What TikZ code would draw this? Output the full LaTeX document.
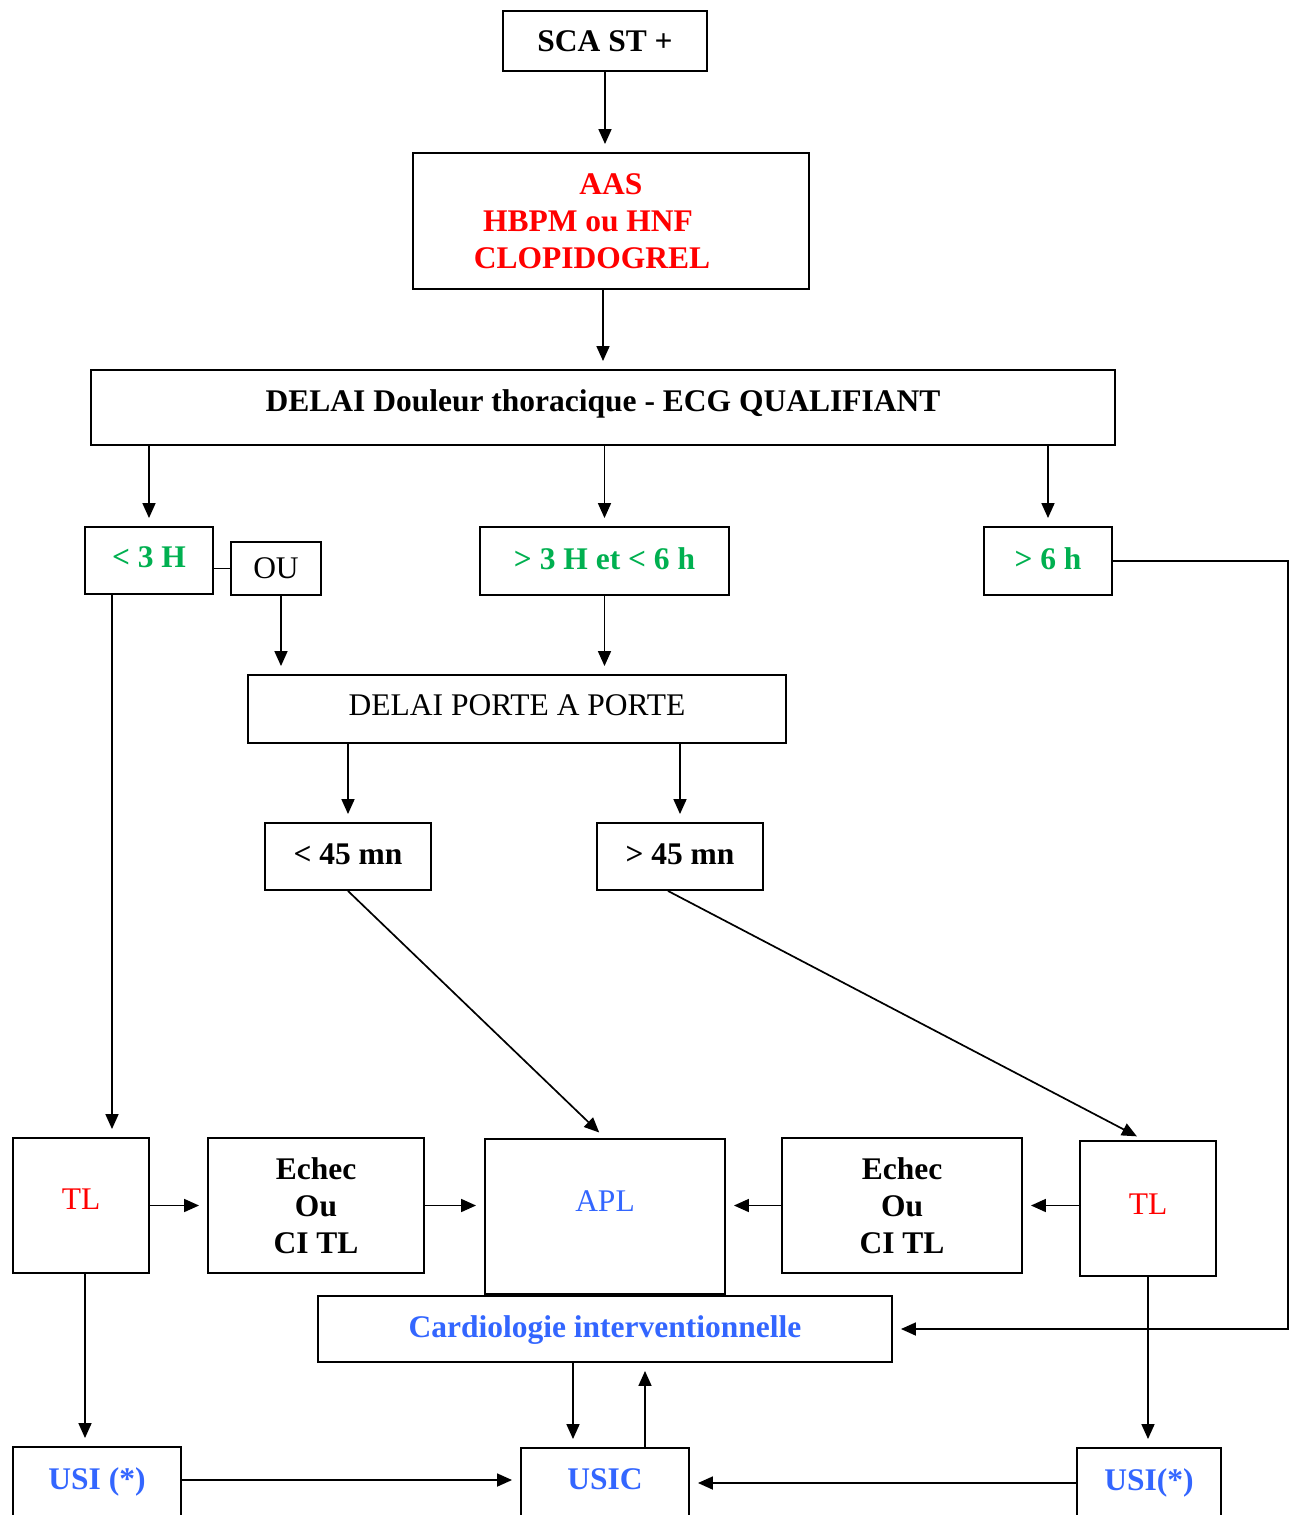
\documentclass[tikz,border=0pt]{standalone}
\usepackage{fontspec}
\setmainfont{Liberation Serif}
\usetikzlibrary{arrows.meta}
\definecolor{cred}{RGB}{255,0,0}
\definecolor{cgreen}{RGB}{0,176,80}
\definecolor{cblue}{RGB}{51,102,255}
\tikzset{
  box/.style={draw, line width=1.9pt, inner sep=0pt, align=center,
    font=\fontsize{31.5}{37}\selectfont},
  bbox/.style={box, font=\fontsize{31.5}{37}\selectfont\bfseries},
  conn/.style={line width=1.7pt, -{Triangle[length=15pt,width=13pt]}, shorten >=8pt},
  plain/.style={line width=1.7pt},
}
\begin{document}
\begin{tikzpicture}[x=1pt,y=-1pt]
\useasboundingbox (0,0) rectangle (1298,1515);
\clip (0,0) rectangle (1298,1515);
\fill[white] (0,0) rectangle (1298,1515);

\node[bbox, minimum width=204, minimum height=60] (sca) at (605,41) {SCA ST +};
\node[bbox, text=cred, minimum width=396, minimum height=136] (aas) at (611,221)
  {AAS\\HBPM ou HNF\hspace*{46pt}\null\\CLOPIDOGREL\hspace*{38pt}\null};
\node[bbox, minimum width=1024, minimum height=75, text depth=14pt] (delai) at (603,407.5)
  {DELAI Douleur thoracique - ECG QUALIFIANT};

\node[bbox, text=cgreen, minimum width=128, minimum height=67, text depth=6pt] (lt3) at (149,560.5) {< 3 H};
\node[box, minimum width=90, minimum height=53] (ou) at (276,568.5) {OU};
\node[bbox, text=cgreen, minimum width=249, minimum height=68, text depth=4pt] (mid) at (604.5,561) {> 3 H et < 6 h};
\node[bbox, text=cgreen, minimum width=128, minimum height=68, text depth=4pt] (gt6) at (1048,561) {> 6 h};

\node[box, minimum width=538, minimum height=68, text depth=8pt] (porte) at (517,709) {DELAI PORTE A PORTE};
\node[bbox, minimum width=166, minimum height=67, text depth=5pt] (lt45) at (348,856.5) {< 45 mn};
\node[bbox, minimum width=166, minimum height=67, text depth=5pt] (gt45) at (680,856.5) {> 45 mn};

\node[box, text=cred, minimum width=136, minimum height=135, text depth=13pt] (tlL) at (81,1205.5) {TL};
\node[bbox, minimum width=216, minimum height=135] (echL) at (316,1205.5) {Echec\\Ou\\CI TL};
\node[box, text=cblue, minimum width=240, minimum height=155, text depth=30pt] (apl) at (605,1216.5) {APL};
\node[bbox, minimum width=240, minimum height=135] (echR) at (902,1205.5) {Echec\\Ou\\CI TL};
\node[box, text=cred, minimum width=136, minimum height=135, text depth=9pt] (tlR) at (1148,1208.5) {TL};

\node[bbox, text=cblue, minimum width=574, minimum height=66, text depth=4pt] (cardio) at (605,1329) {Cardiologie interventionnelle};

\node[bbox, text=cblue, minimum width=168, minimum height=76, text depth=13pt] (usiL) at (97,1485) {USI (*)};
\node[bbox, text=cblue, minimum width=168, minimum height=76, text depth=14pt] (usic) at (605,1486) {USIC};
\node[bbox, text=cblue, minimum width=144, minimum height=76, text depth=13pt] (usiR) at (1149,1486) {USI(*)};

% connectors
\draw[conn] (sca.south) -- (sca.south |- aas.north);
\draw[conn] (aas.south -| delai.north) -- (delai.north);
\draw[conn] (delai.south -| lt3.north) -- (lt3.north);
\draw[conn] (delai.south -| mid.north) -- (mid.north);
\draw[conn] (delai.south -| gt6.north) -- (gt6.north);
\draw[plain] (lt3.east |- ou.west) -- (ou.west);
\draw[conn] ([xshift=5pt]ou.south) -- ([xshift=5pt]ou.south |- porte.north);
\draw[conn] (mid.south) -- (mid.south |- porte.north);
\draw[conn] (porte.south -| lt45.north) -- (lt45.north);
\draw[conn] (porte.south -| gt45.north) -- (gt45.north);
\draw[conn] (lt45.south) -- (apl.north);
\draw[conn] ([xshift=-12pt]gt45.south) -- ([xshift=-4pt]tlR.north);
\draw[conn] ([xshift=-37pt]lt3.south) -- ([xshift=-37pt]lt3.south |- tlL.north);
\draw[conn] (tlL.east) -- (echL.west);
\draw[conn] (echL.east) -- (echL.east -| apl.west);
\draw[conn] (echR.west) -- (echR.west -| apl.east);
\draw[conn] (tlR.west |- echR.east) -- (echR.east);
\draw[conn] (gt6.east) -- ++(175,0) |- (cardio.east);
\draw[conn] ([xshift=4pt]tlL.south) -- ([xshift=4pt]tlL.south |- usiL.north);
\draw[conn] (tlR.south) -- (tlR.south |- usiR.north);
\draw[conn] ([xshift=-32pt]cardio.south) -- ([xshift=-32pt]cardio.south |- usic.north);
\draw[conn] ([xshift=40pt]usic.north) -- ([xshift=40pt]usic.north |- cardio.south);
\draw[conn] (usiL.east |- 0,1480) -- (usic.west |- 0,1480);
\draw[conn] (usiR.west |- 0,1483) -- (usic.east |- 0,1483);
\end{tikzpicture}
\end{document}
